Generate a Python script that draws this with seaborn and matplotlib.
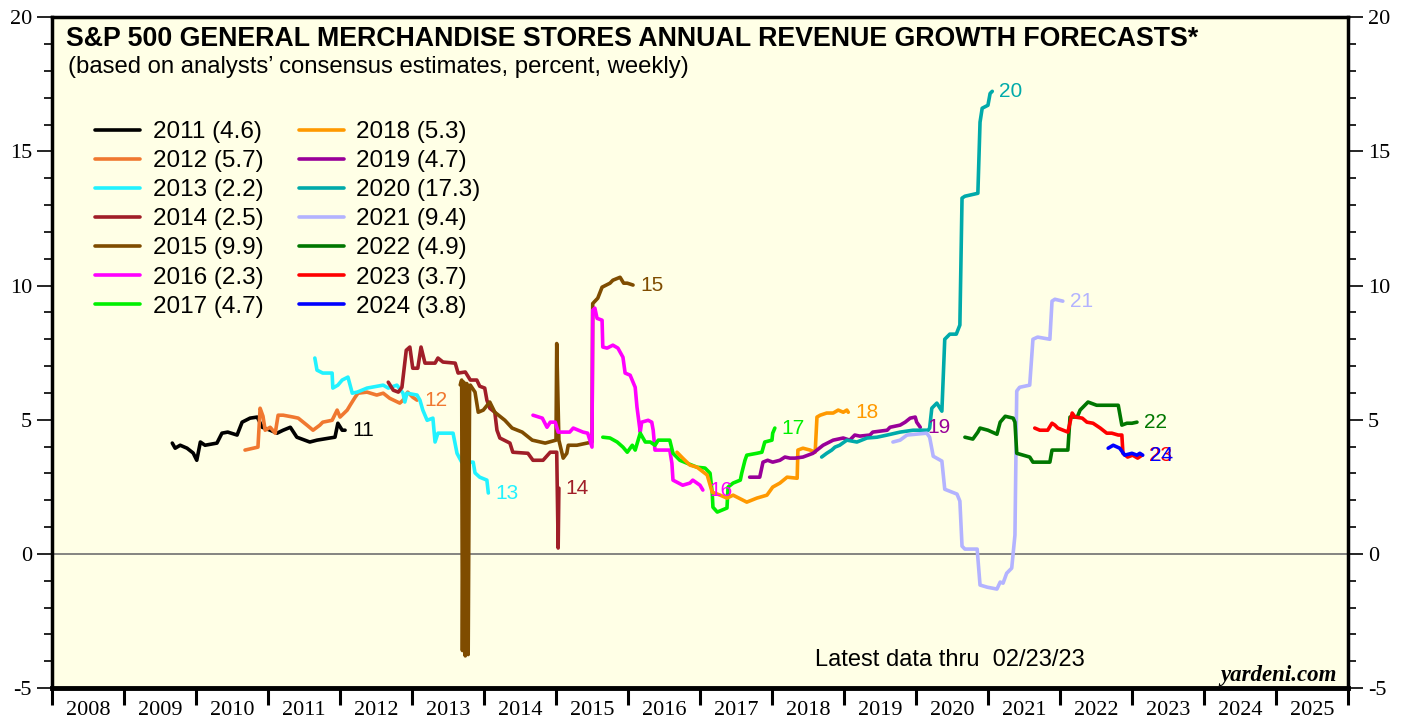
import pandas as pd
import seaborn as sns
import matplotlib.pyplot as plt
from matplotlib.ticker import FixedLocator, MultipleLocator, NullFormatter

# Forecast years, final consensus values (legend) and line colours
years = [2011, 2012, 2013, 2014, 2015, 2016, 2017, 2018, 2019, 2020, 2021, 2022, 2023, 2024]
finals = [4.6, 5.7, 2.2, 2.5, 9.9, 2.3, 4.7, 5.3, 4.7, 17.3, 9.4, 4.9, 3.7, 3.8]
colors = ["#000000", "#F07830", "#22F2FF", "#A01E28", "#7F4C00", "#FF00FF", "#00F000",
          "#FF9900", "#990099", "#00AAAA", "#B3B3FF", "#007700", "#FF0000", "#0000FF"]

# Weekly consensus revenue growth forecasts
x2011 = [2009.67, 2009.71, 2009.78, 2009.875, 2009.96, 2010.01, 2010.06, 2010.125, 2010.29, 2010.36,
         2010.44, 2010.57, 2010.64, 2010.75, 2010.85, 2010.92, 2011.03, 2011.125, 2011.21, 2011.31,
         2011.40, 2011.58, 2011.68, 2011.86, 2011.93, 2011.97, 2012.03, 2012.07]
y2011 = [4.13, 3.94, 4.05, 3.94, 3.76, 3.49, 4.17, 4.05, 4.13, 4.50,
         4.54, 4.43, 4.91, 5.06, 5.10, 4.72, 4.61, 4.50, 4.61, 4.72,
         4.35, 4.17, 4.24, 4.32, 4.35, 4.87, 4.61, 4.61]

x2012 = [2010.68, 2010.86, 2010.89, 2010.93, 2010.96, 2011.03, 2011.10, 2011.14, 2011.21, 2011.35,
         2011.42, 2011.54, 2011.625, 2011.72, 2011.76, 2011.89, 2011.96, 2012.0, 2012.10, 2012.14,
         2012.21, 2012.25, 2012.375, 2012.51, 2012.60, 2012.69, 2012.83, 2012.875, 2012.94, 2013.01, 2013.07]
y2012 = [3.87, 3.98, 5.43, 5.13, 4.61, 4.72, 4.50, 5.17, 5.17, 5.10,
         5.06, 4.80, 4.61, 4.80, 4.91, 4.98, 5.36, 5.10, 5.36, 5.54,
         5.84, 5.99, 6.03, 5.92, 5.99, 5.80, 5.62, 5.73, 6.03, 5.84, 5.73]

x2013 = [2011.65, 2011.68, 2011.76, 2011.89, 2011.90, 2011.97, 2012.03, 2012.11, 2012.17, 2012.24,
         2012.375, 2012.60, 2012.67, 2012.79, 2012.875, 2012.90, 2012.93, 2013.07, 2013.11, 2013.15,
         2013.21, 2013.29, 2013.32, 2013.36, 2013.57, 2013.625, 2013.69, 2013.85, 2013.875, 2013.94,
         2014.04, 2014.06]
y2013 = [7.30, 6.85, 6.74, 6.74, 6.18, 6.29, 6.48, 6.59, 5.99, 6.03,
         6.18, 6.29, 6.18, 6.29, 5.99, 5.66, 5.99, 5.92, 5.73, 5.36,
         4.98, 5.06, 4.17, 4.50, 4.50, 3.75, 3.42, 3.42, 3.02, 2.86,
         2.75, 2.27]

x2014 = [2012.67, 2012.74, 2012.81, 2012.86, 2012.92, 2012.97, 2013.01, 2013.08, 2013.125, 2013.18,
         2013.32, 2013.36, 2013.43, 2013.60, 2013.64, 2013.74, 2013.81, 2013.90, 2013.94, 2014.01,
         2014.04, 2014.08, 2014.15, 2014.18, 2014.22, 2014.36, 2014.40, 2014.61, 2014.68, 2014.82,
         2014.92, 2015.01, 2015.03, 2015.04]
y2014 = [6.40, 6.10, 6.03, 6.21, 7.59, 7.71, 6.92, 6.92, 7.71, 7.11,
         7.11, 7.30, 7.15, 7.11, 6.74, 6.78, 6.48, 6.48, 6.25, 6.18,
         5.73, 5.43, 5.28, 4.61, 4.32, 4.13, 3.79, 3.75, 3.49, 3.49,
         3.79, 3.79, 0.22, 2.45]

x2015 = [2013.67, 2013.69, 2013.70, 2013.72, 2013.74, 2013.76, 2013.78, 2013.80, 2013.81, 2013.875,
         2013.92, 2013.99, 2014.08, 2014.15, 2014.29, 2014.39, 2014.53, 2014.67, 2014.85, 2015.0,
         2015.01, 2015.04, 2015.10, 2015.15, 2015.17, 2015.29, 2015.43, 2015.50, 2015.51, 2015.58,
         2015.64, 2015.75, 2015.79, 2015.89, 2015.94, 2015.99, 2016.07]
y2015 = [6.30, 6.48, -3.60, 6.40, -3.80, 6.35, -3.75, 6.20, 6.29, 6.03,
         5.28, 5.36, 5.66, 5.28, 4.98, 4.69, 4.54, 4.24, 4.13, 4.24,
         7.84, 4.24, 3.57, 3.75, 4.05, 4.05, 4.13, 4.17, 9.33, 9.53,
         9.94, 10.09, 10.20, 10.31, 10.09, 10.09, 10.02]

x2016 = [2014.68, 2014.81, 2014.875, 2014.92, 2014.99, 2015.03, 2015.19, 2015.24, 2015.375, 2015.44,
         2015.50, 2015.51, 2015.54, 2015.57, 2015.64, 2015.65, 2015.71, 2015.79, 2015.86, 2015.93,
         2015.96, 2016.03, 2016.10, 2016.125, 2016.17, 2016.19, 2016.28, 2016.33, 2016.35, 2016.375,
         2016.58, 2016.61, 2016.625, 2016.76, 2016.86, 2016.90, 2017.0, 2017.04]
y2016 = [5.17, 5.06, 4.72, 4.91, 4.91, 4.54, 4.54, 4.69, 4.54, 4.50,
         3.98, 9.08, 9.16, 8.78, 8.71, 7.71, 7.67, 7.78, 7.67, 7.33,
         6.74, 6.66, 6.21, 5.47, 4.54, 4.91, 4.98, 4.91, 4.61, 3.87,
         3.87, 3.38, 2.75, 2.56, 2.64, 2.75, 2.56, 2.38]

x2017 = [2015.65, 2015.75, 2015.85, 2015.93, 2015.99, 2016.06, 2016.10, 2016.17, 2016.24, 2016.31,
         2016.375, 2016.42, 2016.58, 2016.625, 2016.72, 2016.82, 2016.96, 2017.07, 2017.14, 2017.17,
         2017.18, 2017.24, 2017.375, 2017.39, 2017.46, 2017.56, 2017.58, 2017.625, 2017.65, 2017.79,
         2017.86, 2017.90, 2018.0, 2018.01, 2018.04]
y2017 = [4.35, 4.32, 4.17, 3.98, 3.79, 4.05, 3.87, 4.50, 4.17, 4.17,
         4.05, 4.24, 4.24, 3.75, 3.49, 3.38, 3.23, 3.20, 3.01, 2.27,
         1.74, 1.56, 1.71, 2.49, 2.64, 2.75, 3.01, 3.49, 3.68, 3.75,
         3.79, 4.17, 4.24, 4.50, 4.69]

x2018 = [2016.68, 2016.76, 2016.86, 2016.96, 2017.10, 2017.17, 2017.28, 2017.375, 2017.46, 2017.65,
         2017.79, 2017.93, 2018.01, 2018.11, 2018.21, 2018.35, 2018.36, 2018.43, 2018.53, 2018.60,
         2018.625, 2018.67, 2018.76, 2018.85, 2018.92, 2018.99, 2019.04, 2019.06]
y2018 = [3.79, 3.57, 3.31, 3.23, 2.94, 2.30, 2.19, 2.08, 2.19, 1.93,
         2.08, 2.19, 2.49, 2.64, 2.86, 2.82, 3.87, 3.94, 3.87, 3.79,
         5.10, 5.17, 5.25, 5.25, 5.36, 5.28, 5.36, 5.28]

x2019 = [2017.69, 2017.83, 2017.875, 2017.94, 2018.01, 2018.11, 2018.18, 2018.25, 2018.32, 2018.43,
         2018.50, 2018.57, 2018.625, 2018.71, 2018.85, 2018.99, 2019.08, 2019.15, 2019.22, 2019.36,
         2019.40, 2019.60, 2019.64, 2019.78, 2019.85, 2019.92, 2019.99, 2020.01, 2020.06]
y2019 = [2.86, 2.86, 3.42, 3.49, 3.42, 3.49, 3.61, 3.57, 3.57, 3.61,
         3.68, 3.75, 3.87, 4.05, 4.24, 4.32, 4.24, 4.43, 4.39, 4.43,
         4.54, 4.61, 4.72, 4.80, 4.91, 5.06, 5.10, 4.91, 4.72]

x2020 = [2018.69, 2018.76, 2018.83, 2018.875, 2018.94, 2019.04, 2019.18, 2019.32, 2019.46, 2019.60,
         2019.78, 2019.96, 2020.17, 2020.19, 2020.22, 2020.29, 2020.36, 2020.40, 2020.47, 2020.56,
         2020.61, 2020.64, 2020.68, 2020.86, 2020.89, 2020.92, 2021.0, 2021.03, 2021.06]
y2020 = [3.61, 3.75, 3.87, 3.98, 4.05, 4.24, 4.17, 4.32, 4.35, 4.43,
         4.54, 4.61, 4.61, 4.69, 5.43, 5.62, 5.32, 8.00, 8.19, 8.19,
         8.53, 13.26, 13.33, 13.44, 16.09, 16.61, 16.72, 17.16, 17.24]

x2021 = [2019.68, 2019.78, 2019.875, 2020.15, 2020.19, 2020.24, 2020.36, 2020.40, 2020.57, 2020.61,
         2020.64, 2020.68, 2020.85, 2020.89, 2020.99, 2021.125, 2021.17, 2021.21, 2021.26, 2021.33,
         2021.375, 2021.40, 2021.44, 2021.58, 2021.625, 2021.69, 2021.86, 2021.89, 2021.93, 2022.04]
y2021 = [4.17, 4.24, 4.43, 4.50, 4.35, 3.64, 3.46, 2.41, 2.23, 1.97,
         0.29, 0.18, 0.18, -1.16, -1.24, -1.31, -1.05, -1.09, -0.72, -0.53,
         0.70, 6.07, 6.21, 6.29, 8.00, 8.08, 8.00, 9.42, 9.49, 9.42]

x2022 = [2020.68, 2020.79, 2020.86, 2020.89, 2021.0, 2021.125, 2021.17, 2021.24, 2021.35, 2021.375,
         2021.40, 2021.58, 2021.625, 2021.86, 2021.89, 2022.11, 2022.14, 2022.24, 2022.28, 2022.39,
         2022.51, 2022.81, 2022.86, 2022.93, 2023.0, 2023.07]
y2022 = [4.35, 4.28, 4.54, 4.69, 4.61, 4.46, 4.91, 5.13, 5.06, 4.91,
         3.75, 3.61, 3.42, 3.42, 3.87, 3.87, 5.10, 5.10, 5.36, 5.66,
         5.54, 5.54, 4.80, 4.87, 4.87, 4.91]

x2023 = [2021.65, 2021.72, 2021.83, 2021.89, 2021.93, 2021.97, 2022.11, 2022.17, 2022.21, 2022.31,
         2022.375, 2022.46, 2022.56, 2022.65, 2022.72, 2022.81, 2022.86, 2022.875, 2022.94, 2023.01,
         2023.08, 2023.14]
y2023 = [4.69, 4.61, 4.61, 4.87, 4.80, 4.69, 4.54, 5.25, 5.10, 5.06,
         4.91, 4.87, 4.69, 4.50, 4.50, 4.43, 4.43, 3.75, 3.61, 3.68,
         3.57, 3.68]

x2024 = [2022.67, 2022.74, 2022.83, 2022.90, 2023.0, 2023.07, 2023.11, 2023.15]
y2024 = [3.94, 4.05, 3.94, 3.68, 3.75, 3.68, 3.75, 3.68]

series = [(x2011, y2011), (x2012, y2012), (x2013, y2013), (x2014, y2014), (x2015, y2015),
          (x2016, y2016), (x2017, y2017), (x2018, y2018), (x2019, y2019), (x2020, y2020),
          (x2021, y2021), (x2022, y2022), (x2023, y2023), (x2024, y2024)]

# Build one long table for seaborn
frames = []
for yr, fin, (xs, ys) in zip(years, finals, series):
    frames.append(pd.DataFrame({"date": xs, "growth": ys, "label": f"{yr} ({fin})"}))
df = pd.concat(frames, ignore_index=True)

sns.set_style("ticks")
plt.rcParams["font.family"] = ["Liberation Sans", "DejaVu Sans"]
plt.rcParams["axes.unicode_minus"] = False
plt.rcParams["text.color"] = "black"
plt.rcParams["axes.edgecolor"] = "black"
plt.rcParams["xtick.color"] = "black"
plt.rcParams["ytick.color"] = "black"

fig = plt.figure(figsize=(14.07, 7.19), dpi=100)
ax = fig.add_axes([0.037, 0.043, 0.921, 0.933])
ax.set_facecolor("#FFFFE6")
ax.axhline(0, color="#707070", lw=1.2, zorder=1)

sns.lineplot(data=df, x="date", y="growth", hue="label", palette=colors,
             sort=False, estimator=None, lw=2.6, ax=ax)

# Year label at the end of each line
for yr, col, (xs, ys) in zip(years, colors, series):
    ax.annotate(str(yr)[2:], xy=(xs[-1], ys[-1]), xytext=(5, 0), textcoords="offset points",
                va="center", ha="left", color=col, fontsize=15)

# Legend
handles, labels = ax.get_legend_handles_labels()
leg = ax.legend(handles, labels, ncol=2, loc="upper left", bbox_to_anchor=(0.033, 0.845),
                frameon=False, fontsize=17.5, handlelength=1.85, handletextpad=0.53,
                columnspacing=1.45, labelspacing=0.29, borderpad=0, borderaxespad=0)
for line in leg.get_lines():
    line.set_linewidth(2.6)

# Titles and notes
ax.text(0.011, 0.987, "S&P 500 GENERAL MERCHANDISE STORES ANNUAL REVENUE GROWTH FORECASTS*",
        transform=ax.transAxes, fontsize=19.3, fontweight="bold", va="top", ha="left")
ax.text(0.012, 0.942, "(based on analysts\u2019 consensus estimates, percent, weekly)",
        transform=ax.transAxes, fontsize=17.2, va="top", ha="left")
ax.text(0.589, 0.042, "Latest data thru  02/23/23", transform=ax.transAxes,
        fontsize=17, va="center", ha="left")
ax.text(0.991, 0.019, "yardeni.com", transform=ax.transAxes, fontsize=16.5,
        fontweight="bold", fontstyle="italic", family="Liberation Serif", va="center", ha="right")

# Axes
ax.set_xlim(2008, 2026)
ax.set_ylim(-5, 20)
ax.set_xlabel("")
ax.set_ylabel("")

ax.xaxis.set_major_locator(FixedLocator(range(2008, 2027)))
ax.xaxis.set_major_formatter(NullFormatter())
ax.xaxis.set_minor_locator(FixedLocator([y + 0.5 for y in range(2008, 2026)]))
ax.set_xticklabels([str(y) for y in range(2008, 2026)], minor=True)
ax.tick_params(axis="x", which="major", length=12, width=2.2, direction="out")
ax.tick_params(axis="x", which="minor", length=0, pad=9, labelsize=16)

ax.yaxis.set_major_locator(MultipleLocator(5))
ax.yaxis.set_minor_locator(MultipleLocator(1))
ax.tick_params(axis="y", which="both", left=True, right=True, labelleft=True, labelright=True,
               direction="out", labelsize=16)
ax.tick_params(axis="y", which="major", length=11, width=1.2)
ax.tick_params(axis="y", which="minor", length=6, width=1.2)

for lab in ax.get_xticklabels(minor=True):
    lab.set_family("Liberation Serif")
for t in ax.yaxis.get_major_ticks():
    t.label1.set_family("Liberation Serif")
    t.label2.set_family("Liberation Serif")

for side in ["left", "right", "top"]:
    ax.spines[side].set_linewidth(2.5)
ax.spines["bottom"].set_linewidth(3.5)

plt.savefig("out.png", dpi=100)
